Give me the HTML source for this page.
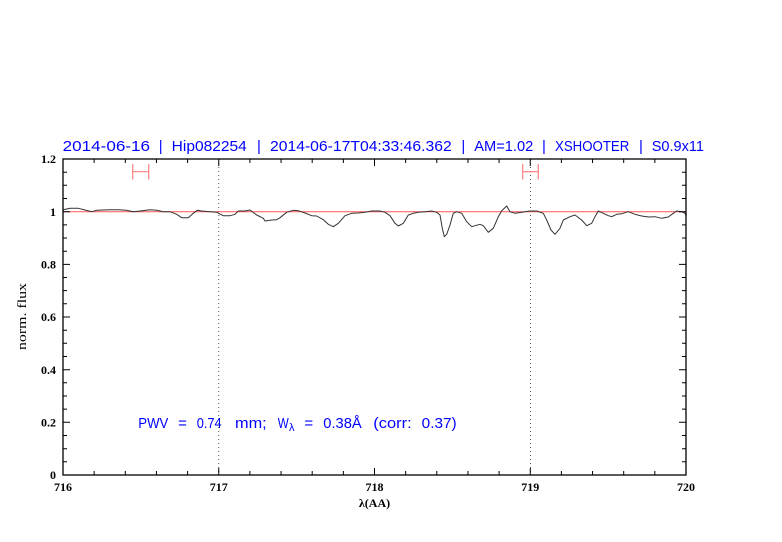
<!DOCTYPE html>
<html><head><meta charset="utf-8"><style>
html,body{margin:0;padding:0;background:#fff;}
svg{display:block;}
</style></head><body>
<svg width="782" height="542" viewBox="0 0 782 542" xmlns="http://www.w3.org/2000/svg">
<rect width="782" height="542" fill="#fff"/>
<!-- title -->
<g font-family="Liberation Sans, sans-serif" font-size="15" fill="#0000ff">
<text x="62.7" y="151" textLength="87.3" lengthAdjust="spacingAndGlyphs">2014-06-16</text>
<text x="160.7" y="151" text-anchor="middle">|</text>
<text x="171.7" y="151" textLength="75" lengthAdjust="spacingAndGlyphs">Hip082254</text>
<text x="259" y="151" text-anchor="middle">|</text>
<text x="270" y="151" textLength="181.7" lengthAdjust="spacingAndGlyphs">2014-06-17T04:33:46.362</text>
<text x="463.3" y="151" text-anchor="middle">|</text>
<text x="474.3" y="151" textLength="59" lengthAdjust="spacingAndGlyphs">AM=1.02</text>
<text x="544" y="151" text-anchor="middle">|</text>
<text x="555" y="151" textLength="74.3" lengthAdjust="spacingAndGlyphs">XSHOOTER</text>
<text x="641" y="151" text-anchor="middle">|</text>
<text x="651.7" y="151" textLength="52.3" lengthAdjust="spacingAndGlyphs">S0.9x11</text>
</g>
<!-- dotted verticals -->
<line x1="218.75" y1="159" x2="218.75" y2="475" stroke="#555" stroke-width="1" stroke-dasharray="1,3"/>
<line x1="530.5" y1="159" x2="530.5" y2="475" stroke="#555" stroke-width="1" stroke-dasharray="1,3"/>
<!-- continuum -->
<line x1="63" y1="211.7" x2="686" y2="211.7" stroke="#ff5555" stroke-width="1"/>
<!-- error bars -->
<g stroke="#ff8080" stroke-width="1.2" fill="none">
<line x1="132.7" y1="171.7" x2="148.7" y2="171.7"/>
<line x1="132.7" y1="164" x2="132.7" y2="179.5"/>
<line x1="148.7" y1="164" x2="148.7" y2="179.5"/>
<line x1="522.7" y1="171.7" x2="538.3" y2="171.7"/>
<line x1="522.7" y1="164" x2="522.7" y2="179.5"/>
<line x1="538.3" y1="164" x2="538.3" y2="179.5"/>
</g>
<!-- spectrum -->
<polyline fill="none" stroke="#333" stroke-width="1" stroke-linejoin="round" points="
63,211 63.3,209.7 70,208.3 78.3,208.3 85,210 91.7,211.7 96.7,210.3 110,209.7 118.3,209.7 126.7,210.3 133.3,211.7 140,211 150,209.7 156.7,210.3 163.3,211.7 170,211.7 176.7,214.3 181.7,217.7 188.3,217.7 193.3,213.3 197.3,210.3 201.7,211 210,211.7 216.7,212.3 223.3,215.7 230,215.7 235,214.3 238.3,211 245,211 250,210 256.7,215 263.3,218.3 265,221 271.7,220 276.7,219.7 280,217.7 286.7,212.3 293.3,210.3 298.3,210.7 305,213 311.7,215.7 316.7,216 323.3,219.7 328.3,224.3 333.3,226.7 338.3,223.3 345,215.7 351.7,213.3 358.3,213 365,212.3 371.7,211 380,211 385,212.3 390,215.7 395,223.3 398.3,226 403.3,223.3 408.3,215 413.3,213.3 418.3,212.3 425,211.7 431.7,211 436.7,212.3 440,215 442.3,228.3 444.3,236.7 446.7,234.3 450,225 453.3,213.3 456.7,211.7 461.7,213.3 466.7,221.7 471.7,226.7 475,225.7 480,224.3 483.3,225.7 488.3,232.3 493.3,228.3 498.3,216.7 501.7,210.7 506.7,206 510,211.7 515,213.3 521.7,212.3 530,211 536.7,211 543.3,213.3 546.7,220 551,230 555,234.3 560,228.3 563.3,220 570,216.7 575,215 581.7,220 586.7,225.7 591.7,223.3 595,216.7 598.3,211 603.3,213.3 608.3,215.7 611.7,216.7 616.7,214.3 621.7,213.7 628.3,211.7 635,214.3 641.7,216 648.3,217 655,216.7 661.7,218.3 668.3,217 673.3,213.3 676.7,211 681.7,211.7 685,213.3 686,215.7"/>
<!-- frame -->
<rect x="63" y="159" width="623" height="316" fill="none" stroke="#000" stroke-width="1.3"/>
<!-- ticks -->
<g stroke="#000" stroke-width="1">
<path d="M63,475v-7M218.75,475v-7M374.5,475v-7M530.25,475v-7M686,475v-7 M63,159v7M218.75,159v7M374.5,159v7M530.25,159v7M686,159v7"/>
<path d="M94.15,475v-4M125.3,475v-4M156.45,475v-4M187.6,475v-4M249.9,475v-4M281.05,475v-4M312.2,475v-4M343.35,475v-4M405.65,475v-4M436.8,475v-4M467.95,475v-4M499.1,475v-4M561.4,475v-4M592.55,475v-4M623.7,475v-4M654.85,475v-4
M94.15,159v4M125.3,159v4M156.45,159v4M187.6,159v4M249.9,159v4M281.05,159v4M312.2,159v4M343.35,159v4M405.65,159v4M436.8,159v4M467.95,159v4M499.1,159v4M561.4,159v4M592.55,159v4M623.7,159v4M654.85,159v4"/>
<path d="M63,475h7M63,422.3h7M63,369.7h7M63,317h7M63,264.4h7M63,211.7h7M63,159h7 M686,475h-7M686,422.3h-7M686,369.7h-7M686,317h-7M686,264.4h-7M686,211.7h-7M686,159h-7"/>
<path d="M63,461.8h4M63,448.7h4M63,435.5h4M63,409.1h4M63,396h4M63,382.8h4M63,356.5h4M63,343.3h4M63,330.2h4M63,303.8h4M63,290.6h4M63,277.5h4M63,251.2h4M63,238h4M63,224.9h4M63,198.5h4M63,185.3h4M63,172.2h4
M686,461.8h-4M686,448.7h-4M686,435.5h-4M686,409.1h-4M686,396h-4M686,382.8h-4M686,356.5h-4M686,343.3h-4M686,330.2h-4M686,303.8h-4M686,290.6h-4M686,277.5h-4M686,251.2h-4M686,238h-4M686,224.9h-4M686,198.5h-4M686,185.3h-4M686,172.2h-4"/>
</g>
<!-- y labels -->
<g font-family="Liberation Serif, serif" font-size="12" font-weight="bold" fill="#000" text-anchor="end">
<text x="56" y="479">0</text>
<text x="56" y="426.5">0.2</text>
<text x="56" y="373.9">0.4</text>
<text x="56" y="321.2">0.6</text>
<text x="56" y="268.6">0.8</text>
<text x="56" y="215.9">1</text>
<text x="56" y="163.2">1.2</text>
</g>
<!-- x labels -->
<g font-family="Liberation Serif, serif" font-size="12" font-weight="bold" fill="#000" text-anchor="middle">
<text x="63" y="491">716</text>
<text x="218.75" y="491">717</text>
<text x="374.5" y="491">718</text>
<text x="530.25" y="491">719</text>
<text x="686" y="491">720</text>
<text x="374.5" y="507">λ(AA)</text>
</g>
<text transform="translate(26,316.5) rotate(-90)" font-family="Liberation Serif, serif" font-size="13" fill="#000" text-anchor="middle" textLength="67" lengthAdjust="spacingAndGlyphs">norm. flux</text>
<!-- PWV -->
<g font-family="Liberation Sans, sans-serif" font-size="15" fill="#0000ff">
<text x="138.3" y="428" textLength="30" lengthAdjust="spacingAndGlyphs">PWV</text>
<text x="182.5" y="428" text-anchor="middle">=</text>
<text x="196.7" y="428" textLength="25" lengthAdjust="spacingAndGlyphs">0.74</text>
<text x="235" y="428" textLength="31.7" lengthAdjust="spacingAndGlyphs">mm;</text>
<text x="277.7" y="428" textLength="11" lengthAdjust="spacingAndGlyphs">W</text>
<text x="289" y="431" font-size="11">λ</text>
<text x="308.8" y="428" text-anchor="middle">=</text>
<text x="323.3" y="428" textLength="38.4" lengthAdjust="spacingAndGlyphs">0.38Å</text>
<text x="373.3" y="428" textLength="38.4" lengthAdjust="spacingAndGlyphs">(corr:</text>
<text x="421.7" y="428" textLength="35" lengthAdjust="spacingAndGlyphs">0.37)</text>
</g>
</svg>
</body></html>
